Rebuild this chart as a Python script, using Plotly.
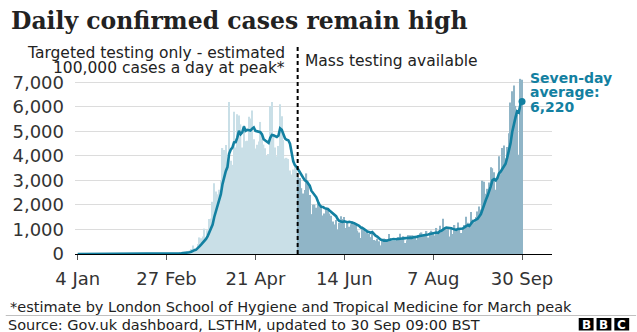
import pandas as pd
import plotly.graph_objects as go

# ---------------- data ----------------
dates = pd.date_range("2020-01-04", "2020-09-30", freq="D")

cases_jan = [0, 0, 0, 0, 0, 0, 0, 0, 0, 0, 0, 0, 0, 0, 0, 0, 0, 0, 0, 0, 0, 0, 0, 0, 0, 0, 0, 2]
cases_feb = [0, 0, 0, 0, 0, 1, 0, 0, 0, 4, 0, 0, 0, 0, 0, 0, 0, 0, 0, 0, 0, 0, 0, 4, 0, 2, 2, 5, 3]
cases_mar = [13, 4, 11, 36, 29, 48, 45, 69, 43, 61, 74, 134, 208, 342, 232, 171, 407, 676, 643, 714,
             1035, 665, 967, 1427, 1452, 2129, 2885, 2546, 2433, 2619, 3009]
cases_apr = [4324, 4244, 4450, 3735, 6200, 3802, 3634, 5800, 4344, 5700, 5650, 5288, 4342, 5252, 4603,
             4617, 5599, 5525, 5850, 4676, 4301, 4451, 4583, 5386, 4913, 4463, 4309, 3996, 4076, 6032]
cases_may = [6201, 4806, 4339, 3985, 4406, 6111, 5614, 4649, 3896, 3923, 3877, 3403, 3242, 3446, 3560,
             3450, 3142, 3103, 2684, 2472, 2615, 3287, 2959, 2409, 1625, 2004, 2013, 1887, 2095, 1936, 1936]
cases_jun = [1570, 1653, 1871, 1805, 1650, 1557, 1326, 1205, 1387, 1003, 1266, 1541, 1425, 1514, 1056,
             1279, 1115, 1218, 1346, 1295, 1221, 958, 874, 653, 1118, 1006, 890, 901, 815, 689]
cases_jul = [829, 576, 544, 624, 516, 352, 581, 630, 612, 512, 820, 650, 530, 538, 538, 642, 687, 827,
             580, 725, 445, 560, 769, 768, 767, 747, 685, 581, 763, 846, 880]
cases_aug = [744, 742, 938, 670, 892, 950, 871, 758, 1062, 816, 1148, 1009, 1441, 1062, 1012, 1040, 713,
             1089, 812, 1182, 1033, 1288, 1041, 853, 1048, 1184, 1522, 1276, 1108, 1715, 1406]
cases_sep = [1295, 1508, 1735, 1940, 1813, 2988, 2948, 2460, 2659, 2919, 3539, 3497, 3330, 2621, 3105,
             3991, 3395, 4322, 4422, 3899, 4368, 4926, 6178, 6634, 6874, 6042, 5693, 4044, 7143, 7108]

avg_jan = [0, 0, 0, 0, 0, 0, 0, 0, 0, 0, 0, 0, 0, 0, 0, 0, 0, 0, 0, 0, 0, 0, 0, 0, 0, 0, 0, 0]
avg_feb = [0, 0, 0, 0, 0, 0, 0, 0, 0, 1, 1, 1, 1, 1, 1, 1, 0, 0, 0, 0, 0, 0, 0, 1, 1, 1, 1, 2, 2]
avg_mar = [4, 4, 6, 11, 14, 21, 27, 35, 40, 47, 53, 68, 91, 133, 156, 175, 224, 310, 383, 455, 554,
           616, 730, 875, 986, 1198, 1509, 1724, 1977, 2213, 2439]
avg_apr = [2849, 3151, 3375, 3545, 4083, 4252, 4341, 4552, 4566, 4745, 5019, 4888, 4965, 5197, 5026,
           5065, 5050, 5032, 5113, 5160, 5024, 5003, 4998, 4967, 4880, 4682, 4629, 4586, 4532, 4739]
avg_may = [4856, 4840, 4823, 4776, 4835, 5126, 5066, 4844, 4714, 4655, 4639, 4496, 4086, 3777, 3621,
           3557, 3446, 3335, 3232, 3122, 3004, 2965, 2895, 2790, 2579, 2482, 2416, 2312, 2142, 1996, 1928]
avg_jun = [1920, 1870, 1850, 1838, 1774, 1720, 1633, 1581, 1543, 1419, 1342, 1326, 1308, 1334, 1313,
           1298, 1314, 1307, 1279, 1260, 1219, 1205, 1147, 1081, 1066, 1018, 960, 914, 894, 867]
avg_jul = [893, 815, 749, 711, 656, 590, 575, 546, 551, 547, 575, 594, 619, 613, 600, 604, 629, 630,
           620, 648, 635, 638, 656, 668, 659, 683, 677, 697, 726, 737, 753]
avg_aug = [749, 749, 785, 798, 816, 831, 830, 832, 877, 860, 928, 945, 1015, 1042, 1079, 1075, 1061,
           1052, 1024, 987, 983, 1022, 1023, 1043, 1037, 1090, 1138, 1173, 1147, 1244, 1323]
avg_sep = [1358, 1404, 1435, 1530, 1630, 1812, 2032, 2199, 2363, 2532, 2761, 3001, 3050, 3004, 3096,
           3286, 3354, 3466, 3598, 3679, 3929, 4189, 4501, 4964, 5329, 5560, 5816, 5770, 6087, 6220]

daily_cases = (cases_jan + cases_feb + cases_mar + cases_apr + cases_may + cases_jun
               + cases_jul + cases_aug + cases_sep)
seven_day_avg = (avg_jan + avg_feb + avg_mar + avg_apr + avg_may + avg_jun
                 + avg_jul + avg_aug + avg_sep)

tick_dates = ["2020-01-04", "2020-02-27", "2020-04-21", "2020-06-14", "2020-08-07", "2020-09-30"]
tick_labels = ["4 Jan", "27 Feb", "21 Apr", "14 Jun", "7 Aug", "30 Sep"]
y_ticks = [0, 1000, 2000, 3000, 4000, 5000, 6000, 7000]
y_tick_labels = ["0", "1,000", "2,000", "3,000", "4,000", "5,000", "6,000", "7,000"]

mass_testing_start = pd.Timestamp("2020-05-17")
latest_avg_label = "6,220"

# ---------------- styling ----------------
W, H = 637, 332
L, R, T, B = 70, 85, 75, 78
PW, PH = W - L - R, H - T - B
LIGHT = "#c9dfe7"
DARK = "#90b5c7"
LINE = "#1380a1"
TXT = "#222222"
SANS = "DejaVu Sans"


def px(x):
    return (x - L) / PW


def py(y):
    return (H - B - y) / PH


bar_colors = [DARK if d >= mass_testing_start else LIGHT for d in dates]

fig = go.Figure()
fig.add_trace(go.Bar(x=dates, y=daily_cases, marker=dict(color=bar_colors, line=dict(width=0)),
                     hoverinfo="skip", showlegend=False))
fig.add_trace(go.Scatter(x=dates, y=seven_day_avg, mode="lines",
                         line=dict(color=LINE, width=2.6), showlegend=False, hoverinfo="skip"))
fig.add_trace(go.Scatter(x=[dates[-1]], y=[seven_day_avg[-1]], mode="markers",
                         marker=dict(color=LINE, size=7), showlegend=False, hoverinfo="skip"))

fig.update_layout(
    width=W, height=H, margin=dict(l=L, r=R, t=T, b=B, pad=0),
    paper_bgcolor="white", plot_bgcolor="white", bargap=0.15,
    font=dict(family=SANS, color=TXT),
    xaxis=dict(type="date", range=["2020-01-02 09:00", "2020-10-18 05:00"],
               tickvals=tick_dates, ticktext=tick_labels, showgrid=False,
               ticks="outside", ticklen=5, tickcolor="#555555", tickwidth=1,
               showline=True, linecolor="#000000", linewidth=1,
               tickfont=dict(size=18, color="#333333", family=SANS), ticklabelstandoff=3),
    yaxis=dict(range=[0, 7300], tickvals=y_ticks, ticktext=y_tick_labels,
               showgrid=True, gridcolor="#dcdcdc", gridwidth=1, zeroline=False,
               showline=False, ticks="", ticklabelstandoff=10,
               tickfont=dict(size=18, color="#333333", family=SANS)),
)

# dashed divider
fig.add_shape(type="line", xref="x", yref="paper", x0=mass_testing_start - pd.Timedelta(hours=8),
              x1=mass_testing_start - pd.Timedelta(hours=8), y0=0, y1=py(46),
              line=dict(color="#000000", width=2, dash="4px,3px"))

ann = []


def add_text(text, x, y, size, xanchor="left", color=TXT, family=SANS, bold=False):
    ann.append(dict(text=f"<b>{text}</b>" if bold else text, xref="paper", yref="paper",
                    x=px(x), y=py(y), xanchor=xanchor, yanchor="middle", showarrow=False,
                    font=dict(size=size, color=color, family=family)))


add_text("Daily confirmed cases remain high", 3, 21, 23.5, family="DejaVu Serif", bold=True,
         color="#222222")
add_text("Targeted testing only - estimated", 284, 52.5, 15.5, xanchor="right")
add_text("100,000 cases a day at peak*", 284, 68, 15.5, xanchor="right")
add_text("Mass testing available", 300, 61, 15.5)
add_text("Seven-day", 528, 77.5, 14, color=LINE, bold=True)
add_text("average:", 528, 92, 14, color=LINE, bold=True)
add_text(latest_avg_label, 528, 106.5, 14, color=LINE, bold=True)
add_text("*estimate by London School of Hygiene and Tropical Medicine for March peak", 2, 306.5, 14.5)
add_text("Source: Gov.uk dashboard, LSTHM, updated to 30 Sep 09:00 BST", 0, 324.5, 14.5)

# separator line above source
fig.add_shape(type="line", xref="paper", yref="paper", x0=px(0), x1=px(W), y0=py(315.5), y1=py(315.5),
              line=dict(color="#c0c0c0", width=1))

# BBC blocks
for i, letter in enumerate(["B", "B", "C"]):
    x0 = 579 + i * 18
    fig.add_shape(type="rect", xref="paper", yref="paper", x0=px(x0), x1=px(x0 + 15),
                  y0=py(330.5), y1=py(318), fillcolor="#000000", line=dict(width=0))
    ann.append(dict(text=f"<b>{letter}</b>", xref="paper", yref="paper", x=px(x0 + 7.5), y=py(324.5),
                    xanchor="center", yanchor="middle", showarrow=False,
                    font=dict(size=12, color="#ffffff", family=SANS)))

fig.update_layout(annotations=ann)
fig.write_html("out.html")
